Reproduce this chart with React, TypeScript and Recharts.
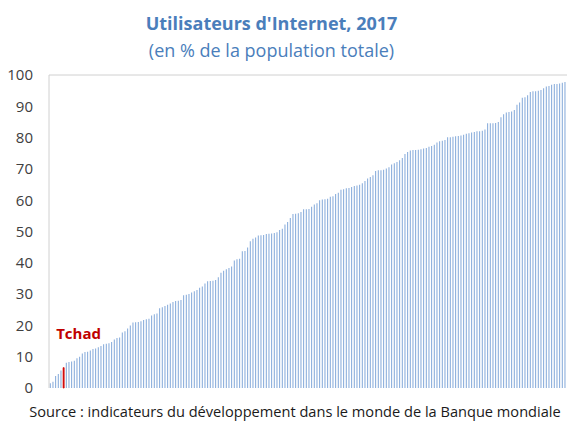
import { BarChart, Bar, XAxis, YAxis, ReferenceLine, Cell } from 'recharts'

// part des utilisateurs d'Internet (% pop.), pays classés par ordre croissant
const values = [
  1.5, 2, 3.8, 4.5, 5.6, 6.5, 8.1, 8.3, 8.5, 8.7,
  9.5, 10, 11, 11.5, 11.6, 12, 12.5, 12.6, 13, 13.4,
  14, 14.1, 14.3, 14.7, 15.5, 16, 16.1, 17.7, 18.1, 19,
  20, 20.9, 21, 21.1, 21.3, 21.7, 22, 22.1, 23.2, 23.6,
  23.8, 25.5, 25.8, 26.2, 26.6, 27, 27.5, 27.8, 27.9, 28.1,
  29.6, 29.8, 30, 30.5, 30.9, 31.3, 32, 32.4, 33.4, 34.1,
  34.2, 34.3, 34.5, 35.4, 36.8, 37.5, 37.9, 38.3, 38.8, 40.7,
  41.1, 41.3, 43.7, 43.8, 44.9, 46.9, 47.7, 48.1, 48.7, 48.8,
  48.9, 49.2, 49.3, 49.4, 49.5, 49.8, 50.5, 50.9, 52.2, 53,
  54.3, 55.6, 55.7, 55.8, 56.2, 57.1, 57.1, 57.2, 57.9, 58.6,
  59, 60, 60.2, 60.3, 60.5, 61.1, 61.3, 62, 62.4, 63.3,
  63.5, 63.8, 63.9, 64.2, 64.5, 64.7, 64.9, 65.4, 66.1, 66.9,
  67.4, 68, 69.3, 69.6, 69.6, 69.7, 70.1, 70.5, 71.4, 71.8,
  72.2, 72.8, 73.5, 74.8, 75.4, 75.9, 76, 76, 76.1, 76.3,
  76.5, 76.7, 77.1, 77.3, 77.7, 78.4, 78.8, 79, 79.2, 80.1,
  80.1, 80.3, 80.4, 80.5, 80.7, 80.9, 81.2, 81.4, 81.6, 81.8,
  82, 82, 82.2, 82.6, 84.6, 84.6, 84.6, 84.7, 85, 86.5,
  87.5, 88, 88.2, 88.3, 88.8, 90.5, 91.2, 92.7, 92.9, 93.5,
  94.6, 94.8, 94.8, 95, 95.2, 95.8, 96.3, 96.5, 96.9, 97.1,
  97.1, 97.3, 97.5, 97.8, 98,
]
const highlightIndex = 5
const highlightName = 'Tchad'
const yTicks = [0, 10, 20, 30, 40, 50, 60, 70, 80, 90, 100]

const data = values.map((v, i) => ({ rang: i + 1, valeur: v }))

const FONT = '"Open Sans", "Noto Sans", sans-serif'

const TchadLabel = (props: any) => {
  const { x, y, index } = props
  if (index !== highlightIndex) return null
  return (
    <text x={x - 7} y={y - 29} fill="#c00000" fontSize={15} fontWeight={700} fontFamily={FONT}>
      {highlightName}
    </text>
  )
}

export default function App() {
  return (
    <div style={{ position: 'absolute', left: 0, top: 0, width: 567, height: 422, overflow: 'hidden', background: '#fff', fontFamily: FONT }}>
      <div style={{ position: 'absolute', top: 10, width: 567, textAlign: 'center', paddingRight: 24, boxSizing: 'border-box', color: '#4a7ebb' }}>
        <div style={{ fontSize: 18, fontWeight: 700, lineHeight: '27px' }}>Utilisateurs d'Internet, 2017</div>
        <div style={{ fontSize: 18, lineHeight: '27px' }}>(en % de la population totale)</div>
      </div>

      <BarChart width={572} height={422} data={data} margin={{ top: 75, right: 3, bottom: 34, left: 0 }} barCategoryGap="30%">
        <XAxis dataKey="rang" tick={false} tickLine={false} height={0} axisLine={{ stroke: '#d0d0d0' }} />
        <YAxis
          width={49}
          domain={[0, 100]}
          ticks={yTicks}
          interval={0}
          tickLine={false}
          tickMargin={10}
          axisLine={{ stroke: '#d0d0d0' }}
          tick={{ fontSize: 15, fill: '#404040', fontFamily: FONT }}
        />
        <ReferenceLine y={100} stroke="#d0d0d0" />
        <Bar dataKey="valeur" isAnimationActive={false} label={<TchadLabel />}>
          {data.map((d, i) => (
            <Cell
              key={`c-${d.rang}`}
              fill={i === highlightIndex ? '#d00000' : '#82a8d9'}
              stroke={i === highlightIndex ? '#d00000' : 'none'}
              strokeWidth={i === highlightIndex ? 0.8 : 0}
            />
          ))}
        </Bar>
      </BarChart>

      <div style={{ position: 'absolute', left: 0, top: 401, width: 590, textAlign: 'center', fontSize: 14.6, color: '#1a1a1a' }}>
        Source : indicateurs du développement dans le monde de la Banque mondiale
      </div>
    </div>
  )
}
